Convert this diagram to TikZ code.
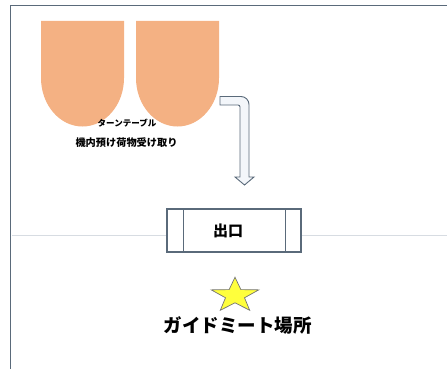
\documentclass[tikz,border=0pt]{standalone}
\usepackage{fontspec}
\usepackage{tikz}
\usetikzlibrary{shapes.geometric}
\newfontfamily\jpfont{Noto Sans CJK JP}
\definecolor{tablecol}{HTML}{F4B183}
\definecolor{framecol}{HTML}{5A6A7A}
\definecolor{floorcol}{HTML}{D7DCE2}
\definecolor{arrowfill}{HTML}{F3F6FA}
\definecolor{starcol}{HTML}{FFFF3C}
\tikzset{
  turntable/.style={fill=tablecol, draw=none},
  jptext/.style={font=\jpfont\bfseries, inner sep=0pt},
  doorline/.style={draw=framecol, line width=1.1pt}
}

\begin{document}
\begin{tikzpicture}[x=1pt,y=1pt]
\useasboundingbox (0,0) rectangle (447,-369);
\draw[framecol, line width=1.5pt] (10.5,-369) -- (10.5,-5.5) -- (447,-5.5); % frame
\draw[floorcol, line width=0.8pt] (12,-235) -- (447,-235);
\path[turntable] (41,-21) -- (41,-78) arc[start angle=180, end angle=360, x radius=41.5, y radius=48.5] -- (124,-21) -- cycle;
\path[turntable] (136,-21) -- (136,-78) arc[start angle=180, end angle=360, x radius=41.5, y radius=48.5] -- (219,-21) -- cycle; % two turntables
\node[jptext, font=\jpfont\bfseries\fontsize{8.5}{9}\selectfont] (tablename) at (127,-123) {ターンテーブル};
\node[jptext, font=\jpfont\bfseries\fontsize{10.2}{11}\selectfont] (baggage) at (126.5,-143) {機内預け荷物受け取り};
\draw[framecol, fill=arrowfill, line width=0.9pt] (220,-96.5) -- (241,-96.5) arc[start angle=90, end angle=0, radius=8]
  -- (249,-177) -- (254,-177) -- (244.5,-185) -- (235,-177) -- (240,-177) -- (240,-107) arc[start angle=0, end angle=90, radius=2] -- (220,-105) -- cycle; % bent arrow
\node[doorline, fill=white, minimum width=134pt, minimum height=43pt, inner sep=0pt] (exitdoor) at (234,-230.5) {};
\draw[doorline] ([xshift=17pt]exitdoor.north west) -- ([xshift=17pt]exitdoor.south west);
\draw[doorline] ([xshift=-16pt]exitdoor.north east) -- ([xshift=-16pt]exitdoor.south east);
\node[jptext, font=\jpfont\bfseries\fontsize{15}{16}\selectfont] (exitname) at (228,-231) {出口};
\begin{scope}[shift={(235,-295.5)}, yscale=0.73]
\node[star, star points=5, star point ratio=2.5, minimum size=50pt, inner sep=0pt, fill=starcol, draw=black!55, line width=0.7pt, transform shape] (meetstar) at (0,0) {};
\end{scope}
\node[jptext, font=\jpfont\bfseries\fontsize{18.5}{20}\selectfont] (meetname) at (237.5,-325) {ガイドミート場所};
\end{tikzpicture}
\end{document}
